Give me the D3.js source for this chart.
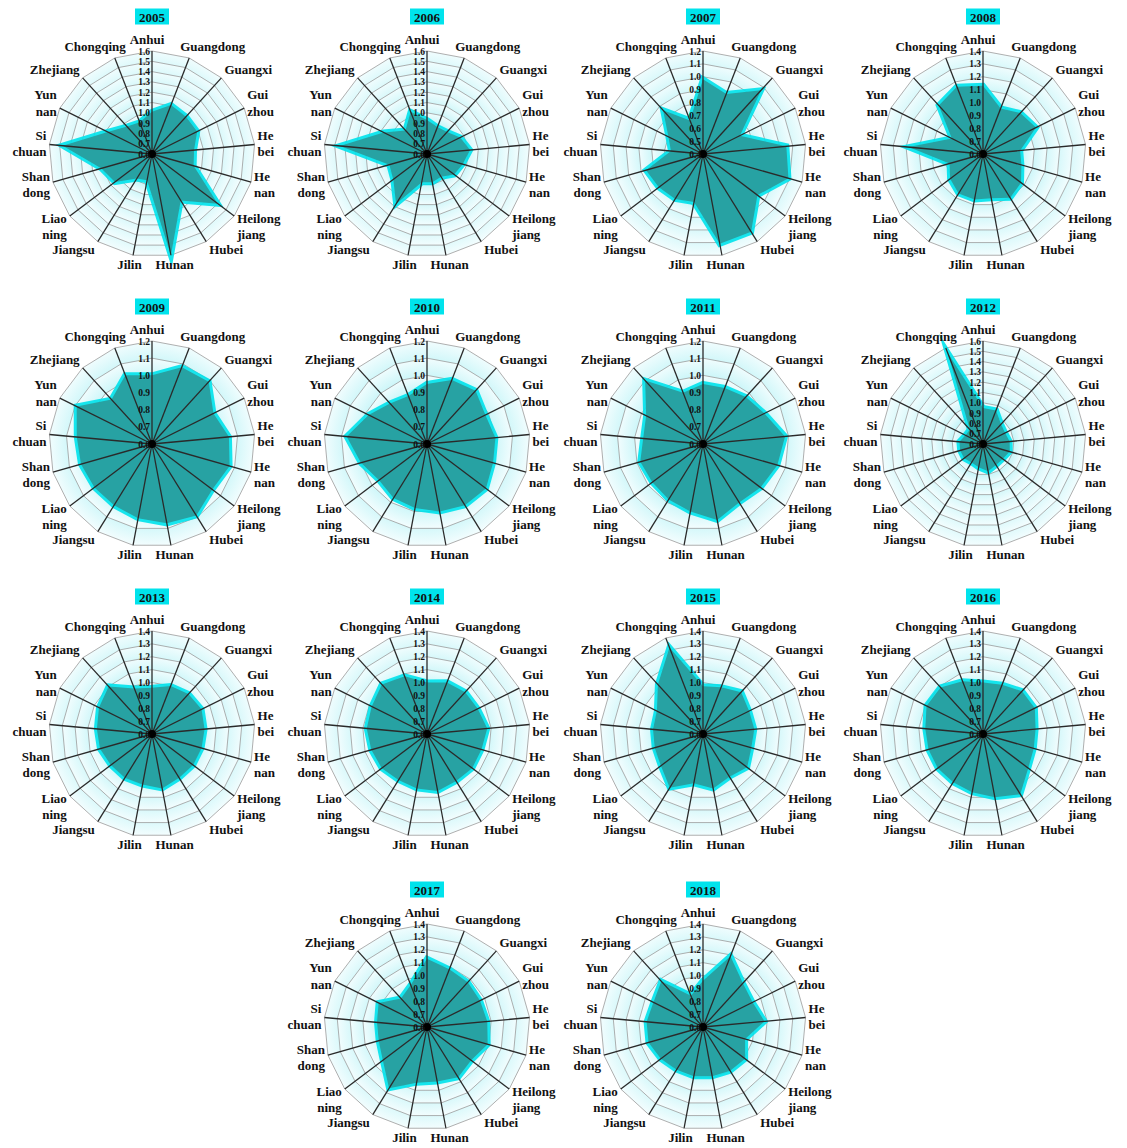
<!DOCTYPE html>
<html>
<head>
<meta charset="utf-8">
<script src="https://cdn.jsdelivr.net/npm/d3@7"></script>
<style>
  html, body { margin: 0; padding: 0; background: #fff; }
  svg { display: block; }
</style>
</head>
<body>
<div id="chart"></div>
<script>
const categories = ["Anhui", "Guangdong", "Guangxi", "Gui zhou", "He bei", "He nan", "Heilong jiang",
  "Hubei", "Hunan", "Jilin", "Jiangsu", "Liao ning", "Shan dong", "Si chuan", "Yun nan", "Zhejiang", "Chongqing"];

const years = ["2005", "2006", "2007", "2008", "2009", "2010", "2011", "2012",
  "2013", "2014", "2015", "2016", "2017", "2018"];
const axisMin = [0.6, 0.6, 0.4, 0.6, 0.6, 0.6, 0.6, 0.6, 0.6, 0.6, 0.6, 0.6, 0.6, 0.6];
const axisMax = [1.6, 1.6, 1.2, 1.4, 1.2, 1.2, 1.2, 1.6, 1.4, 1.4, 1.4, 1.4, 1.4, 1.4];

const v2005 = [1.01, 1.11, 1.09, 1.09, 1.01, 1.02, 1.40, 1.13, 1.60, 0.86, 0.88, 1.05, 1.11, 1.47, 1.08, 0.96, 0.93];
const v2006 = [0.93, 0.88, 0.89, 0.96, 1.02, 0.96, 0.93, 0.86, 0.88, 0.88, 1.17, 1.01, 0.98, 1.45, 1.07, 0.91, 1.04];
const v2007 = [0.98, 0.90, 1.07, 0.72, 1.05, 1.09, 0.93, 1.11, 1.11, 0.78, 0.81, 0.83, 0.86, 0.65, 0.70, 0.86, 0.68];
const v2008 = [1.13, 0.98, 1.03, 1.06, 0.89, 0.91, 0.97, 1.00, 0.95, 0.96, 0.96, 0.92, 0.87, 1.18, 0.87, 1.11, 1.16];
const v2009 = [1.00, 1.08, 1.09, 1.00, 1.05, 1.07, 1.04, 1.09, 1.07, 1.04, 1.02, 1.02, 1.03, 1.04, 1.09, 0.95, 1.03];
const v2010 = [0.95, 1.00, 1.02, 0.98, 1.00, 1.00, 1.03, 1.02, 1.00, 0.98, 0.97, 0.95, 1.00, 1.07, 0.98, 0.92, 0.90];
const v2011 = [0.95, 0.95, 0.97, 1.00, 1.08, 1.05, 1.02, 1.00, 1.05, 1.00, 0.98, 0.97, 0.98, 0.95, 0.97, 1.10, 0.92];
const v2012 = [0.95, 0.95, 0.86, 0.84, 0.86, 0.87, 0.84, 0.84, 0.87, 0.83, 0.81, 0.83, 0.83, 0.83, 0.79, 0.79, 1.55];
const v2013 = [0.96, 1.00, 1.02, 1.03, 1.01, 1.00, 1.00, 1.00, 1.03, 1.00, 1.00, 1.00, 1.02, 1.03, 1.06, 1.10, 0.98];
const v2014 = [1.00, 1.03, 1.04, 1.04, 1.07, 1.04, 1.04, 1.03, 1.05, 1.03, 1.02, 1.04, 1.05, 1.07, 1.08, 1.12, 1.08];
const v2015 = [0.97, 0.99, 1.04, 1.00, 1.00, 0.99, 1.03, 0.99, 1.03, 0.99, 1.09, 1.01, 0.99, 0.99, 1.00, 1.12, 1.32];
const v2016 = [1.00, 1.01, 1.05, 1.05, 1.01, 1.01, 1.04, 1.15, 1.10, 1.06, 1.04, 1.04, 1.04, 1.05, 1.09, 1.09, 1.04];
const v2017 = [1.13, 1.08, 1.07, 1.06, 1.07, 1.09, 1.03, 1.06, 1.03, 1.04, 1.16, 1.03, 0.99, 0.99, 1.02, 0.90, 0.95];
const v2018 = [0.96, 1.19, 1.06, 1.03, 1.08, 0.94, 1.01, 1.00, 0.99, 0.99, 0.99, 1.01, 1.04, 1.04, 1.03, 1.08, 0.86];

const series = [v2005, v2006, v2007, v2008, v2009, v2010, v2011, v2012, v2013, v2014, v2015, v2016, v2017, v2018];

const width = 1127, height = 1148;
const R = 103;
const colX = [152, 427, 703, 983];
const rowY = [154, 444, 734, 1027];
const font = '"Times New Roman", "Liberation Serif", "DejaVu Serif", serif';

const svg = d3.select("#chart").append("svg")
  .attr("width", width)
  .attr("height", height)
  .attr("viewBox", `0 0 ${width} ${height}`);

const defs = svg.append("defs");
const grad = defs.append("radialGradient").attr("id", "band");
grad.append("stop").attr("offset", "0%").attr("stop-color", "#a6eef3");
grad.append("stop").attr("offset", "75%").attr("stop-color", "#c6f5f8");
grad.append("stop").attr("offset", "100%").attr("stop-color", "#f2fdfe");

const n = categories.length;
const angle = d3.scaleLinear().domain([0, n]).range([0, 2 * Math.PI]);

years.forEach((year, k) => {
  const col = k < 12 ? k % 4 : k - 11;
  const row = k < 12 ? Math.floor(k / 4) : 3;
  const g = svg.append("g").attr("transform", `translate(${colX[col]},${rowY[row]})`);

  const lo = axisMin[k], hi = axisMax[k];
  const r = d3.scaleLinear().domain([lo, hi]).range([0, R]);
  const ticks = d3.range(Math.round((hi - lo) * 10) + 1).map(i => +(lo + i / 10).toFixed(1));

  const ringLine = d3.lineRadial()
    .angle((d, i) => angle(i))
    .radius(d => d)
    .curve(d3.curveLinearClosed);

  // background bands, outer first
  const rings = ticks.slice(1).reverse();
  g.selectAll("path.band")
    .data(rings)
    .join("path")
    .attr("class", "band")
    .attr("d", t => ringLine(d3.range(n).map(() => r(t))))
    .attr("fill", "url(#band)")
    .attr("stroke", "#9a9a9a")
    .attr("stroke-width", 0.8);

  // data polygon
  const dataLine = d3.lineRadial()
    .angle((d, i) => angle(i))
    .radius(d => r(d))
    .curve(d3.curveLinearClosed);
  const vals = series[k];
  g.append("path")
    .attr("d", dataLine(vals))
    .attr("fill", "#00e3ec")
    .attr("stroke", "#00e3ec")
    .attr("stroke-width", 6)
    .attr("stroke-linejoin", "miter")
    .attr("stroke-miterlimit", 8)
    .attr("opacity", 0.9);
  g.append("path")
    .attr("d", dataLine(vals))
    .attr("fill", "#27a2a3");

  // spokes
  g.selectAll("line.spoke")
    .data(d3.range(n))
    .join("line")
    .attr("class", "spoke")
    .attr("x1", 0).attr("y1", 0)
    .attr("x2", i => R * Math.sin(angle(i)))
    .attr("y2", i => -R * Math.cos(angle(i)))
    .attr("stroke", "#2a2a2a")
    .attr("stroke-width", 1.3);

  g.append("circle").attr("r", 4).attr("fill", "#000");

  // tick labels
  g.selectAll("text.tick")
    .data(ticks)
    .join("text")
    .attr("class", "tick")
    .attr("x", -2)
    .attr("y", t => -r(t) + 3.5)
    .attr("text-anchor", "end")
    .attr("font-family", font)
    .attr("font-weight", "bold")
    .attr("font-size", 9.5)
    .attr("fill", "#111")
    .text(t => t.toFixed(1));

  // category labels
  g.selectAll("text.cat")
    .data(categories)
    .join("text")
    .attr("class", "cat")
    .attr("font-family", font)
    .attr("font-weight", "bold")
    .attr("font-size", 13)
    .attr("fill", "#111")
    .each(function(name, i) {
      const a = angle(i);
      const s = Math.sin(a), c = Math.cos(a);
      const ex = R * s, ey = -R * c;
      let anchor, x;
      if (Math.abs(s) < 0.2) { anchor = "middle"; x = ex + s * 20 - (c > 0 ? 5 : 0); }
      else if (s > 0) { anchor = "start"; x = ex + (c > 0.9 ? -9 : 3); }
      else { anchor = "end"; x = ex + (c > 0.9 ? 11 : -3); }
      const yc = ey - c * (c > 0 ? 12 : 9) + (c < -0.3 && c > -0.8 ? 5 : 0);
      const lines = name.split(" ");
      const lh = 16.5;
      const t = d3.select(this).attr("text-anchor", anchor);
      lines.forEach((ln, j) => {
        t.append("tspan")
          .attr("x", x)
          .attr("y", yc + (j - (lines.length - 1) / 2) * lh + 4.5)
          .text(ln);
      });
    });

  // year title
  const title = g.append("g").attr("transform", `translate(0,${-R - 34})`);
  title.append("rect")
    .attr("x", -17).attr("y", -8.5)
    .attr("width", 34).attr("height", 16)
    .attr("fill", "#00e3ec");
  title.append("text")
    .attr("y", 4.5)
    .attr("text-anchor", "middle")
    .attr("font-family", font)
    .attr("font-weight", "bold")
    .attr("font-size", 13)
    .attr("fill", "#111")
    .text(year);
});
</script>
</body>
</html>
